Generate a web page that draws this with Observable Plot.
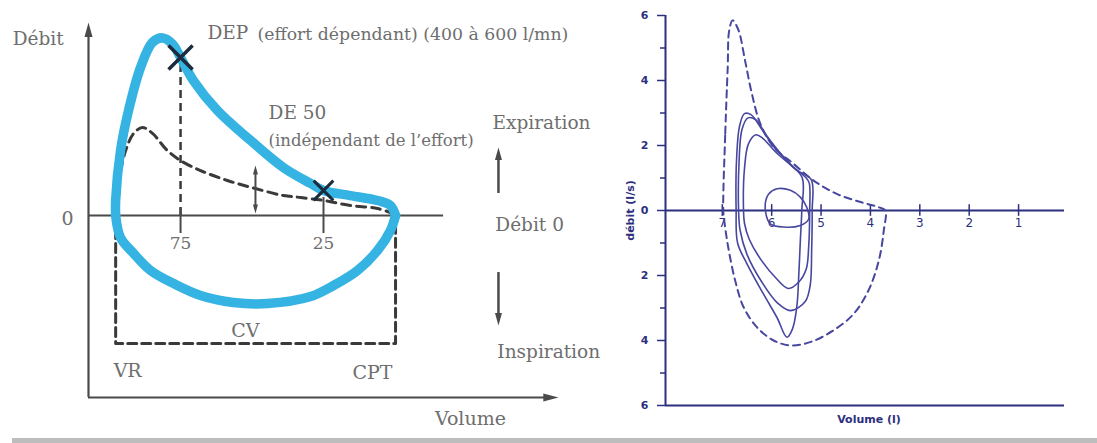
<!DOCTYPE html>
<html><head><meta charset="utf-8">
<script src="https://cdn.jsdelivr.net/npm/d3@7"></script>
<script src="https://cdn.jsdelivr.net/npm/@observablehq/plot@0.6"></script>
<style>
html,body{margin:0;padding:0;background:#fff;}
#wrap{position:relative;width:1097px;height:443px;overflow:hidden;background:#fff;}
#left{position:absolute;left:0;top:0;}
#right{position:absolute;left:620px;top:0;}
#bar{position:absolute;left:12px;top:438px;width:1085px;height:5px;background:#bdbdbd;}
</style></head><body>
<div id="wrap"><div id="left"></div><div id="right"></div><div id="bar"></div></div>
<script>
// ---------- LEFT PANEL (schematic, volume in % of CV, flow in arbitrary units) ----------
// expiration branch (VR -> CPT) and inspiration branch (CPT -> VR) of the blue loop
const expVolume = [97.7,97.7,96.0,93.2,89.0,84.8,81.3,77.8,75.0,70.5,62.1,50.5,39.0,29.5,25.0,15.6,6.1,1.6,-0.2];
const expFlow   = [0,0.86,3.71,6.0,8.46,9.9,10.15,9.8,9.03,7.71,6.0,4.29,2.74,1.83,1.43,1.14,0.86,0.57,0.0];
const inspVolume = [-0.2,1.6,6.1,13.1,21.5,29.5,44.6,56.5,68.0,77.4,85.5,91.4,96.0,97.7];
const inspFlow   = [0.0,-0.86,-2.0,-3.14,-4.0,-4.63,-5.03,-4.97,-4.57,-3.89,-3.14,-2.17,-1.26,0.0];
const dashVolume = [97.7,97.0,94.2,91.4,88.3,84.8,79.6,75.0,68.0,58.6,48.8,39.0,33.0,25.0,15.6,6.1,-0.2];
const dashFlow   = [0,1.6,3.71,4.69,5.03,4.69,3.71,3.14,2.57,2.0,1.54,1.14,1.03,0.86,0.57,0.4,0.06];
const VR = 97.7, CPT = -0.2, cvFlow = -7.31;
const pointDEP = {v: 75, f: 9.03};
const point25 = {v: 25, f: 1.43};
const pctTicks = [75, 25];
const de50 = {v: 48.8, f1: 0.11, f2: 2.86};
const dirArrowV = -36.2;
const expArrow = {f1: 1.26, f2: 3.89};
const inspArrow = {f1: -3.26, f2: -6.29};
const leftX = [107.2, -57.2], leftY = [-10.4, 11.03];
const zeroEnd = -17;

const leftLabelsBig = [
  {t: "Débit", v: 133.7, f: 10.11, a: "start"},
  {t: "DEP", v: 65.6, f: 10.4, a: "start"},
  {t: "DE 50", v: 44.2, f: 5.83, a: "start"},
  {t: "Expiration", v: -34.1, f: 5.31, a: "start"},
  {t: "Débit 0", v: -35.1, f: -0.57, a: "start"},
  {t: "Inspiration", v: -35.8, f: -7.83, a: "start"},
  {t: "Volume", v: -26.4, f: -11.6, a: "middle"},
  {t: "CPT", v: 7.87, f: -8.97, a: "middle"},
  {t: "VR", v: 93.5, f: -8.86, a: "middle"},
  {t: "CV", v: 52.3, f: -6.57, a: "middle"},
  {t: "0", v: 114.5, f: -0.17, a: "middle"}
];
const depNote = [{t: "(effort dépendant) (400 à 600 l/mn)", v: 48.1, f: 10.33}];
const de50Note = [{t: "(indépendant de l’effort)", v: 44.2, f: 4.29}];
const pctLabels = [{t: "75", v: 75, f: -1.6}, {t: "25", v: 25, f: -1.6}];

// ---------- RIGHT PANEL (volume l, débit l/s) ----------
const outerV = [6.98,6.94,6.89,6.86,6.79,6.67,6.54,6.40,6.23,5.96,5.56,5.15,4.68,4.20,3.83,3.70,3.73,3.83,4.04,4.34,4.75,5.22,5.62,5.96,6.30,6.57,6.74,6.88,6.96];
const outerF = [0,2.37,4.41,5.54,5.85,5.54,4.62,3.59,2.67,1.95,1.44,0.92,0.51,0.26,0.10,0,-0.62,-1.54,-2.46,-3.18,-3.69,-4.05,-4.15,-4.0,-3.59,-2.97,-2.15,-1.13,-0.31];
const loopLarge = [[6.72,0],[6.71,1.6],[6.65,2.6],[6.55,2.98],[6.42,2.95],[6.2,2.5],[5.95,1.95],[5.62,1.42],[5.38,1.0],[5.39,0],[5.42,-0.95],[5.45,-1.95],[5.49,-2.95],[5.58,-3.65],[5.69,-3.9],[5.89,-3.3],[6.17,-2.56],[6.5,-1.64],[6.69,-1.0]];
const loopMid = [[6.67,0],[6.66,1.5],[6.6,2.5],[6.48,2.85],[6.33,2.8],[6.1,2.3],[5.8,1.72],[5.5,1.25],[5.2,0.95],[5.18,0],[5.19,-1.2],[5.22,-2.3],[5.32,-2.8],[5.62,-3.08],[5.88,-2.85],[6.2,-2.2],[6.5,-1.35],[6.64,-0.6]];
const loopSmall = [[6.57,0],[6.55,1.3],[6.47,2.05],[6.32,2.33],[6.18,2.22],[5.92,1.8],[5.6,1.38],[5.3,1.0],[5.24,0.85],[5.23,0],[5.25,-1.1],[5.3,-1.8],[5.45,-2.2],[5.66,-2.4],[5.9,-2.1],[6.2,-1.55],[6.45,-0.9],[6.55,-0.4]];
const loopTidal = [[6.13,0.21],[6.06,0.51],[5.89,0.67],[5.62,0.62],[5.42,0.41],[5.29,0.1],[5.25,-0.26],[5.42,-0.46],[5.76,-0.51],[6.03,-0.41],[6.11,-0.15]];
const flowTicksMajor = [-6,-4,-2,0,2,4,6];
const flowTicksMinor = [-5,-3,-1,1,3,5];
const volTicks = [7,6,5,4,3,2,1];
const rightX = [8.15, 0.07], rightY = [-6, 6];

// ---------- symbols ----------
const headUp = {draw(c, s){const r=Math.sqrt(s/Math.PI); c.moveTo(0,0); c.lineTo(0.5*r,1.8*r); c.lineTo(-0.5*r,1.8*r); c.closePath();}};
const headDown = {draw(c, s){const r=Math.sqrt(s/Math.PI); c.moveTo(0,0); c.lineTo(0.5*r,-1.8*r); c.lineTo(-0.5*r,-1.8*r); c.closePath();}};
const headRight = {draw(c, s){const r=Math.sqrt(s/Math.PI); c.moveTo(0,0); c.lineTo(-1.9*r,0.5*r); c.lineTo(-1.9*r,-0.5*r); c.closePath();}};

const txt = "#6e6e6e", axc = "#4a4a4a", dashc = "#3a3a3a", blue = "#35b3e2", xc = "#1c2c3e";
const serif = "DejaVu Serif";

const blueData = [
  ...expVolume.map((v,i)=>({phase: "exp", v, f: expFlow[i]})),
  ...inspVolume.map((v,i)=>({phase: "insp", v, f: inspFlow[i]}))
];
const dashData = dashVolume.map((v,i)=>({v, f: dashFlow[i]}));
const rectData = [{v: VR, f: 0},{v: VR, f: cvFlow},{v: CPT, f: cvFlow},{v: CPT, f: 0}];

const left = Plot.plot({
  width: 620, height: 443,
  marginLeft: 88, marginRight: 62, marginTop: 22, marginBottom: 46,
  x: {domain: leftX, axis: null},
  y: {domain: leftY, axis: null},
  style: {background: "transparent", fontFamily: serif, overflow: "visible"},
  marks: [
    Plot.ruleX([leftX[0]], {y1: leftY[0], y2: leftY[1] - 0.6, stroke: axc, strokeWidth: 2.2}),
    Plot.ruleY([leftY[0]], {x1: leftX[0], x2: leftX[1] + 3, stroke: axc, strokeWidth: 2.2}),
    Plot.dot([{v: leftX[0], f: leftY[1]}], {x: "v", y: "f", symbol: headUp, r: 8, fill: axc, stroke: null}),
    Plot.dot([{v: leftX[1], f: leftY[0]}], {x: "v", y: "f", symbol: headRight, r: 8, fill: axc, stroke: null}),
    Plot.ruleY([0], {x1: leftX[0], x2: zeroEnd, stroke: axc, strokeWidth: 2}),
    Plot.line(rectData, {x: "v", y: "f", stroke: dashc, strokeWidth: 3, strokeDasharray: "9,5"}),
    Plot.ruleX([pointDEP.v], {y1: 0, y2: pointDEP.f - 0.4, stroke: dashc, strokeWidth: 2.5, strokeDasharray: "8,5"}),
    Plot.ruleX(pctTicks, {y1: d => d === 75 ? 0.4 : 1.03, y2: -1.03, stroke: axc, strokeWidth: 2}),
    Plot.line(dashData, {x: "v", y: "f", curve: "catmull-rom", stroke: dashc, strokeWidth: 3, strokeDasharray: "9,6"}),
    Plot.line(blueData, {x: "v", y: "f", z: "phase", curve: "catmull-rom", stroke: blue, strokeWidth: 9.5, strokeLinecap: "round", strokeLinejoin: "round"}),
    Plot.dot([pointDEP], {x: "v", y: "f", symbol: "times", r: 11, stroke: xc, strokeWidth: 3.5}),
    Plot.dot([point25], {x: "v", y: "f", symbol: "times", r: 9, stroke: xc, strokeWidth: 3}),
    Plot.ruleX([de50.v], {y1: de50.f1 + 0.3, y2: de50.f2 - 0.3, stroke: axc, strokeWidth: 2}),
    Plot.dot([{v: de50.v, f: de50.f2}], {x: "v", y: "f", symbol: headUp, r: 5, fill: axc, stroke: null}),
    Plot.dot([{v: de50.v, f: de50.f1}], {x: "v", y: "f", symbol: headDown, r: 5, fill: axc, stroke: null}),
    Plot.ruleX([dirArrowV], {y1: expArrow.f1, y2: expArrow.f2 - 0.5, stroke: axc, strokeWidth: 2.5}),
    Plot.dot([{v: dirArrowV, f: expArrow.f2}], {x: "v", y: "f", symbol: headUp, r: 7, fill: axc, stroke: null}),
    Plot.ruleX([dirArrowV], {y1: inspArrow.f1, y2: inspArrow.f2 + 0.5, stroke: axc, strokeWidth: 2.5}),
    Plot.dot([{v: dirArrowV, f: inspArrow.f2}], {x: "v", y: "f", symbol: headDown, r: 7, fill: axc, stroke: null}),
    Plot.text(leftLabelsBig, {x: "v", y: "f", text: "t", textAnchor: "start", filter: d => d.a === "start", fill: txt, fontSize: 18.5}),
    Plot.text(leftLabelsBig, {x: "v", y: "f", text: "t", textAnchor: "middle", filter: d => d.a === "middle", fill: txt, fontSize: 19}),
    Plot.text(depNote, {x: "v", y: "f", text: "t", textAnchor: "start", fill: txt, fontSize: 17.3}),
    Plot.text(de50Note, {x: "v", y: "f", text: "t", textAnchor: "start", fill: txt, fontSize: 16.5}),
    Plot.text(pctLabels, {x: "v", y: "f", text: "t", fill: txt, fontSize: 17})
  ]
});
document.getElementById("left").appendChild(left);

// ---------- RIGHT ----------
const navy = "#2d2f7e", loopc = "#4747a0";
const outerData = outerV.map((v,i)=>({v, f: outerF[i]}));
const loopsData = [
  ...loopLarge.map(([v,f])=>({loop: "large", v, f})),
  ...loopMid.map(([v,f])=>({loop: "mid", v, f})),
  ...loopSmall.map(([v,f])=>({loop: "small", v, f})),
  ...loopTidal.map(([v,f])=>({loop: "tidal", v, f}))
];

const right = Plot.plot({
  width: 477, height: 443,
  marginLeft: 45, marginRight: 33, marginTop: 15, marginBottom: 38,
  x: {domain: rightX, axis: null},
  y: {domain: rightY, axis: null},
  style: {background: "transparent", fontFamily: "DejaVu Sans", color: navy, overflow: "visible"},
  marks: [
    Plot.ruleX([rightX[0]], {y1: rightY[0], y2: rightY[1], stroke: navy, strokeWidth: 2}),
    Plot.ruleY([rightY[0]], {x1: rightX[0], x2: rightX[1], stroke: navy, strokeWidth: 2}),
    Plot.ruleY([0], {x1: rightX[0], x2: rightX[1], stroke: navy, strokeWidth: 1.8}),
    Plot.axisY(flowTicksMajor, {anchor: "left", label: null, tickSize: 8, tickPadding: 9, tickFormat: d => String(Math.abs(d)), fontSize: 11, fontWeight: "bold", stroke: navy, fill: navy, strokeWidth: 1.5}),
    Plot.axisY(flowTicksMinor, {anchor: "left", label: null, tickSize: 5, tickFormat: () => "", stroke: navy, strokeWidth: 1.5}),
    Plot.ruleX(volTicks, {y1: -0.18, y2: 0.18, stroke: navy, strokeWidth: 1.5}),
    Plot.text(volTicks, {x: d => d, y: 0, dy: 13, text: d => String(d), fill: navy, fontSize: 12}),
    Plot.line(outerData, {x: "v", y: "f", curve: "catmull-rom-closed", stroke: loopc, strokeWidth: 2, strokeDasharray: "7,5"}),
    Plot.line(loopsData, {x: "v", y: "f", z: "loop", curve: "catmull-rom-closed", stroke: loopc, strokeWidth: 1.6}),
    Plot.text(["débit (l/s)"], {frameAnchor: "left", textAnchor: "middle", dx: -35, rotate: -90, fontSize: 11, fontWeight: "bold", fill: navy}),
    Plot.text(["Volume (l)"], {frameAnchor: "bottom", dy: 17, dx: 4, fontSize: 11, fontWeight: "bold", fill: navy})
  ]
});
document.getElementById("right").appendChild(right);
</script></body></html>
